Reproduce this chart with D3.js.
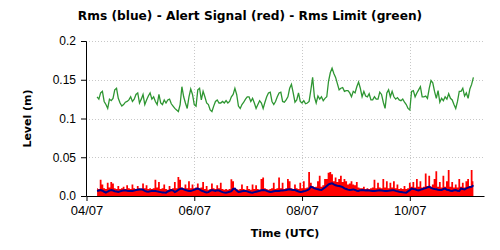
<!DOCTYPE html>
<html>
<head>
<meta charset="utf-8">
<script src="https://cdn.jsdelivr.net/npm/d3@7"></script>
<style>
  body { margin: 0; background: #fff; }
  svg { display: block; font-family: "DejaVu Sans", Verdana, sans-serif; }
  .axis path, .axis line { stroke: #000; }
  .axis text { font-size: 12px; fill: #000; }
  .axis.x text { font-size: 13px; }
  .grid line { stroke: #c8c8c8; stroke-dasharray: 1,2; }
</style>
</head>
<body>
<svg id="chart" width="500" height="250"></svg>
<script>
  // daily values, first day is 2021-04-13 (UTC)
  var startDay = Date.UTC(2021, 3, 13);

  var rmsLimit = [
    0.128, 0.125, 0.133, 0.135, 0.122, 0.118, 0.113, 0.125, 0.123, 0.126,
    0.137, 0.139, 0.126, 0.120, 0.116, 0.118, 0.121, 0.122, 0.124, 0.128,
    0.122, 0.125, 0.131, 0.133, 0.120, 0.125, 0.131, 0.118, 0.124, 0.129,
    0.133, 0.125, 0.128, 0.122, 0.118, 0.131, 0.120, 0.118, 0.124, 0.120,
    0.124, 0.125, 0.119, 0.116, 0.113, 0.111, 0.109, 0.118, 0.141, 0.128,
    0.120, 0.113, 0.128, 0.138, 0.131, 0.118, 0.116, 0.137, 0.139, 0.124,
    0.135, 0.128, 0.120, 0.118, 0.111, 0.109, 0.116, 0.122, 0.124, 0.120,
    0.120, 0.122, 0.120, 0.123, 0.120, 0.122, 0.128, 0.131, 0.139, 0.131,
    0.116, 0.113, 0.118, 0.121, 0.125, 0.128, 0.128, 0.122, 0.126, 0.120,
    0.113, 0.118, 0.123, 0.120, 0.113, 0.121, 0.128, 0.133, 0.134, 0.122,
    0.118, 0.122, 0.128, 0.133, 0.134, 0.122, 0.121, 0.124, 0.128, 0.139,
    0.144, 0.133, 0.121, 0.124, 0.133, 0.122, 0.120, 0.123, 0.119, 0.120,
    0.122, 0.137, 0.153, 0.128, 0.120, 0.129, 0.125, 0.128, 0.123, 0.126,
    0.128, 0.148, 0.159, 0.165, 0.158, 0.153, 0.145, 0.137, 0.139, 0.140,
    0.135, 0.136, 0.136, 0.133, 0.128, 0.135, 0.133, 0.141, 0.147, 0.139,
    0.128, 0.135, 0.129, 0.128, 0.132, 0.124, 0.124, 0.128, 0.125, 0.125,
    0.134, 0.131, 0.121, 0.113, 0.133, 0.137, 0.128, 0.135, 0.128, 0.125,
    0.127, 0.124, 0.123, 0.125, 0.121, 0.118, 0.113, 0.111, 0.135, 0.136,
    0.128, 0.133, 0.137, 0.141, 0.128, 0.128, 0.129, 0.126, 0.139, 0.149,
    0.146, 0.135, 0.126, 0.136, 0.121, 0.126, 0.123, 0.128, 0.125, 0.132,
    0.126, 0.124, 0.118, 0.113, 0.122, 0.135, 0.135, 0.139, 0.129, 0.133,
    0.126, 0.138, 0.144, 0.153
  ];

  var alertSignal = [
    0.010, 0.009, 0.021, 0.015, 0.010, 0.009, 0.017, 0.011, 0.018, 0.016,
    0.010, 0.009, 0.013, 0.009, 0.010, 0.012, 0.009, 0.014, 0.010, 0.009,
    0.015, 0.010, 0.009, 0.013, 0.010, 0.009, 0.016, 0.010, 0.014, 0.009,
    0.010, 0.009, 0.010, 0.021, 0.011, 0.018, 0.009, 0.010, 0.015, 0.009,
    0.008, 0.013, 0.009, 0.010, 0.018, 0.010, 0.0245, 0.021, 0.011, 0.010,
    0.015, 0.010, 0.019, 0.010, 0.015, 0.010, 0.011, 0.016, 0.010, 0.011,
    0.018, 0.009, 0.013, 0.008, 0.009, 0.016, 0.010, 0.009, 0.014, 0.010,
    0.017, 0.009, 0.008, 0.009, 0.008, 0.009, 0.0215, 0.019, 0.010, 0.009,
    0.008, 0.009, 0.015, 0.009, 0.008, 0.013, 0.009, 0.008, 0.015, 0.009,
    0.014, 0.009, 0.008, 0.022, 0.024, 0.010, 0.009, 0.008, 0.009, 0.010,
    0.017, 0.009, 0.010, 0.024, 0.010, 0.017, 0.009, 0.010, 0.022, 0.019,
    0.010, 0.009, 0.015, 0.010, 0.009, 0.017, 0.010, 0.019, 0.010, 0.011,
    0.031, 0.017, 0.013, 0.011, 0.012, 0.019, 0.026, 0.012, 0.014, 0.022,
    0.022, 0.030, 0.031, 0.028, 0.019, 0.024, 0.018, 0.022, 0.026, 0.018,
    0.022, 0.019, 0.015, 0.016, 0.019, 0.015, 0.014, 0.018, 0.011, 0.010,
    0.010, 0.012, 0.009, 0.010, 0.009, 0.010, 0.011, 0.021, 0.010, 0.017,
    0.011, 0.010, 0.022, 0.011, 0.019, 0.010, 0.017, 0.011, 0.019, 0.010,
    0.015, 0.009, 0.010, 0.009, 0.013, 0.009, 0.010, 0.017, 0.012, 0.018,
    0.011, 0.022, 0.012, 0.019, 0.011, 0.012, 0.029, 0.013, 0.026, 0.012,
    0.015, 0.022, 0.032, 0.012, 0.018, 0.011, 0.026, 0.012, 0.019, 0.0335,
    0.012, 0.018, 0.011, 0.015, 0.011, 0.022, 0.012, 0.017, 0.011, 0.019,
    0.022, 0.013, 0.0335, 0.019
  ];

  var rms = [
    0.0065, 0.0072, 0.0077, 0.0068, 0.0055, 0.0045, 0.0058, 0.0070, 0.0077, 0.0070,
    0.0062, 0.0057, 0.0052, 0.0060, 0.0068, 0.0072, 0.0073, 0.0068, 0.0064, 0.0066,
    0.0065, 0.0070, 0.0078, 0.0082, 0.0085, 0.0086, 0.0080, 0.0066, 0.0058, 0.0056,
    0.0060, 0.0066, 0.0064, 0.0065, 0.0060, 0.0054, 0.0050, 0.0046, 0.0044, 0.0043,
    0.0058, 0.0068, 0.0077, 0.0070, 0.0052, 0.0062, 0.0080, 0.0092, 0.0095, 0.0085,
    0.0077, 0.0070, 0.0066, 0.0065, 0.0072, 0.0080, 0.0090, 0.0095, 0.0085, 0.0070,
    0.0062, 0.0052, 0.0045, 0.0050, 0.0065, 0.0077, 0.0070, 0.0065, 0.0075, 0.0070,
    0.0060, 0.0050, 0.0045, 0.0043, 0.0048, 0.0055, 0.0062, 0.0090, 0.0095, 0.0070,
    0.0052, 0.0055, 0.0060, 0.0065, 0.0066, 0.0060, 0.0052, 0.0045, 0.0043, 0.0050,
    0.0056, 0.0060, 0.0068, 0.0074, 0.0077, 0.0075, 0.0066, 0.0058, 0.0052, 0.0054,
    0.0060, 0.0064, 0.0065, 0.0066, 0.0070, 0.0072, 0.0073, 0.0078, 0.0084, 0.0086,
    0.0082, 0.0078, 0.0077, 0.0068, 0.0058, 0.0052, 0.0056, 0.0062, 0.0066, 0.0075,
    0.0086, 0.0120, 0.0112, 0.0100, 0.0092, 0.0086, 0.0080, 0.0077, 0.0095, 0.0110,
    0.0130, 0.0150, 0.0158, 0.0163, 0.0150, 0.0138, 0.0132, 0.0128, 0.0122, 0.0115,
    0.0098, 0.0090, 0.0082, 0.0077, 0.0080, 0.0085, 0.0078, 0.0068, 0.0065, 0.0075,
    0.0077, 0.0075, 0.0072, 0.0073, 0.0070, 0.0068, 0.0066, 0.0065, 0.0068, 0.0072,
    0.0073, 0.0072, 0.0068, 0.0066, 0.0065, 0.0068, 0.0072, 0.0074, 0.0073, 0.0066,
    0.0060, 0.0055, 0.0052, 0.0048, 0.0045, 0.0043, 0.0060, 0.0075, 0.0095, 0.0090,
    0.0086, 0.0078, 0.0073, 0.0080, 0.0088, 0.0095, 0.0102, 0.0112, 0.0120, 0.0105,
    0.0095, 0.0090, 0.0086, 0.0080, 0.0078, 0.0077, 0.0090, 0.0095, 0.0080, 0.0077,
    0.0068, 0.0065, 0.0074, 0.0077, 0.0068, 0.0065, 0.0095, 0.0090, 0.0086, 0.0098,
    0.0108, 0.0115, 0.0120, 0.0138
  ];

  var xTicks = [Date.UTC(2021, 3, 7), Date.UTC(2021, 5, 7), Date.UTC(2021, 7, 7), Date.UTC(2021, 9, 7)];
  var yTicks = [0, 0.05, 0.1, 0.15, 0.2];

  (function() {
    var svg = d3.select('#chart');
    var left = 86, right = 484, plotTop = 41, bottom = 196;

    var x = d3.scaleUtc()
      .domain([new Date(Date.UTC(2021, 3, 7)), new Date(Date.UTC(2021, 10, 18))])
      .range([left + 0.5, right]);
    var y = d3.scaleLinear().domain([0, 0.2]).range([bottom, plotTop]);

    function day(i) { return new Date(startDay + i * 864e5); }

    // grid
    svg.append('g').attr('class', 'grid')
      .selectAll('line').data(yTicks.slice(1)).join('line')
      .attr('x1', left).attr('x2', right)
      .attr('y1', function(d) { return Math.round(y(d)) + 0.5; })
      .attr('y2', function(d) { return Math.round(y(d)) + 0.5; });
    svg.append('g').attr('class', 'grid')
      .selectAll('line').data(xTicks.slice(1)).join('line')
      .attr('y1', plotTop).attr('y2', bottom)
      .attr('x1', function(d) { return Math.round(x(d)) + 0.5; })
      .attr('x2', function(d) { return Math.round(x(d)) + 0.5; });

    // alert signal (red)
    svg.append('path')
      .datum(alertSignal)
      .attr('fill', '#ff0000')
      .attr('d', d3.area()
        .curve(d3.curveStep)
        .x(function(d, i) { return x(day(i)); })
        .y0(y(0))
        .y1(function(d) { return y(d); }));

    // rms (blue)
    svg.append('path')
      .datum(rms)
      .attr('fill', 'none')
      .attr('stroke', '#00008b')
      .attr('stroke-width', 2)
      .attr('d', d3.line()
        .x(function(d, i) { return x(day(i)); })
        .y(function(d) { return y(d); }));

    // rms limit (green)
    svg.append('path')
      .datum(rmsLimit)
      .attr('fill', 'none')
      .attr('stroke', '#2e9632')
      .attr('stroke-width', 1.3)
      .attr('d', d3.line()
        .x(function(d, i) { return x(day(i)); })
        .y(function(d) { return y(d); }));

    // axes
    svg.append('g').attr('class', 'axis x')
      .attr('transform', 'translate(0,' + bottom + ')')
      .call(d3.axisBottom(x)
        .tickValues(xTicks.map(function(t) { return new Date(t); }))
        .tickFormat(d3.utcFormat('%m/%d'))
        .tickSize(5).tickSizeOuter(0).tickPadding(5));

    svg.append('g').attr('class', 'axis y')
      .attr('transform', 'translate(' + left + ',0)')
      .call(d3.axisLeft(y)
        .tickValues(yTicks)
        .tickFormat(function(d) { return d === 0 ? '0.0' : String(d); })
        .tickSize(5).tickSizeOuter(5).tickPadding(5));

    svg.append('text')
      .attr('x', 250).attr('y', 20)
      .attr('text-anchor', 'middle')
      .attr('font-size', 12.2).attr('font-weight', 'bold')
      .text('Rms (blue) - Alert Signal (red) - Rms Limit (green)');

    svg.append('text')
      .attr('x', (left + right) / 2).attr('y', 237)
      .attr('text-anchor', 'middle')
      .attr('font-size', 11).attr('font-weight', 'bold')
      .text('Time (UTC)');

    svg.append('text')
      .attr('transform', 'translate(31,' + (plotTop + bottom) / 2 + ') rotate(-90)')
      .attr('text-anchor', 'middle')
      .attr('font-size', 11).attr('font-weight', 'bold')
      .text('Level (m)');
  })();
</script>
</body>
</html>
